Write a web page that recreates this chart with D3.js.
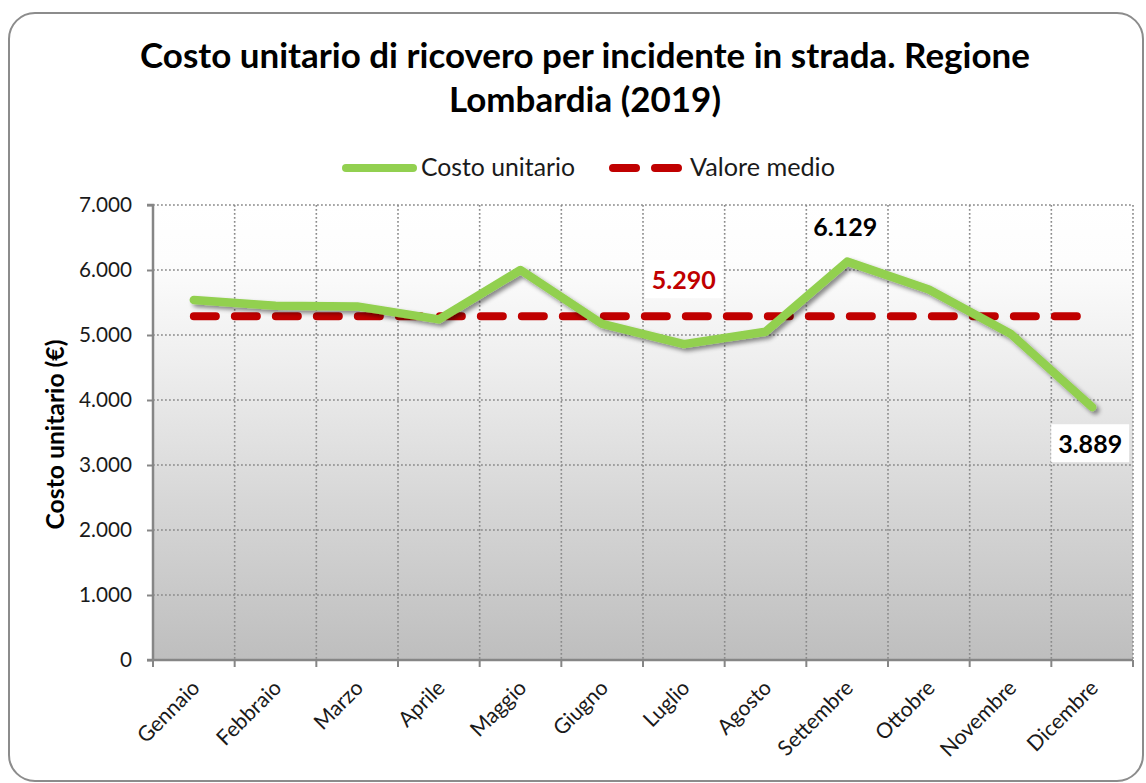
<!DOCTYPE html>
<html>
<head>
<meta charset="utf-8">
<script src="https://cdn.jsdelivr.net/npm/d3@7"></script>
<style>
  html, body { margin: 0; padding: 0; background: #ffffff; }
  svg { display: block; }
  text { font-family: Lato, "Open Sans", "DejaVu Sans", sans-serif; }
</style>
</head>
<body>
<script>
// ---- DATA ----
const months = ["Gennaio","Febbraio","Marzo","Aprile","Maggio","Giugno","Luglio","Agosto","Settembre","Ottobre","Novembre","Dicembre"];
const costoUnitario = [5540, 5450, 5440, 5240, 6000, 5170, 4860, 5050, 6129, 5700, 5020, 3889];
const valoreMedio = 5290;
const yTicks = [0, 1000, 2000, 3000, 4000, 5000, 6000, 7000];
const titleLines = ["Costo unitario di ricovero per incidente in strada. Regione", "Lombardia (2019)"];
const legendLabels = ["Costo unitario", "Valore medio"];
const yAxisTitle = "Costo unitario (€)";
const labelledPoints = [
  {month: "Settembre", value: 6129, text: "6.129"},
  {month: "Dicembre", value: 3889, text: "3.889"}
];
const meanLabel = {month: "Luglio", text: "5.290"};

// ---- SETUP ----
const W = 1146, H = 783;
const svg = d3.select("body").append("svg").attr("width", W).attr("height", H);
const defs = svg.append("defs");

const grad = defs.append("linearGradient").attr("id", "bg").attr("x1", 0).attr("y1", 0).attr("x2", 0).attr("y2", 1);
[[0, "#ffffff"], [0.12, "#fdfdfd"], [0.35, "#eeeeee"], [0.65, "#d7d7d7"], [1, "#bebebe"]].forEach(([o, c]) =>
  grad.append("stop").attr("offset", o).attr("stop-color", c));

const shadow = defs.append("filter").attr("id", "shadow").attr("x", "-10%").attr("y", "-20%").attr("width", "120%").attr("height", "140%");
shadow.append("feDropShadow").attr("dx", 3).attr("dy", 3).attr("stdDeviation", 2.2)
  .attr("flood-color", "#000").attr("flood-opacity", 0.45);

const locale = d3.formatLocale({decimal: ",", thousands: ".", grouping: [3], currency: ["€", ""]});
const fmt = locale.format(",");

function fit(sel, target) {
  const fs = parseFloat(sel.attr("font-size"));
  const w = sel.node().getComputedTextLength();
  const nfs = fs * target / w;
  sel.attr("font-size", nfs.toFixed(2));
  return nfs;
}

// chart border
svg.append("rect").attr("x", 9).attr("y", 13).attr("width", 1134).attr("height", 768)
  .attr("rx", 26).attr("ry", 26).attr("fill", "#fff").attr("stroke", "#8c8c8c").attr("stroke-width", 2);

const x = d3.scaleBand().domain(months).range([153, 1133]).padding(0);
const cx = m => x(m) + x.bandwidth() / 2;
const y = d3.scaleLinear().domain([0, 7000]).range([660, 205]);

// plot background
svg.append("rect").attr("x", x.range()[0]).attr("y", y(7000))
  .attr("width", x.range()[1] - x.range()[0]).attr("height", y(0) - y(7000))
  .attr("fill", "url(#bg)");

// gridlines
const grid = svg.append("g").attr("stroke", "#8a8a8a").attr("stroke-width", 1.6).attr("stroke-dasharray", "1.8,2.2");
grid.selectAll("line.h").data(yTicks.filter(t => t > 0)).join("line")
  .attr("x1", x.range()[0]).attr("x2", x.range()[1])
  .attr("y1", d => y(d)).attr("y2", d => y(d));
grid.selectAll("line.v").data(months).join("line")
  .attr("x1", d => x(d) + x.bandwidth()).attr("x2", d => x(d) + x.bandwidth())
  .attr("y1", y(7000)).attr("y2", y(0));

// axes
const yAxis = d3.axisLeft(y).tickValues(yTicks).tickFormat(fmt).tickSize(6).tickPadding(15);
const gy = svg.append("g").attr("transform", `translate(${x.range()[0]},0)`).call(yAxis);
gy.select(".domain").attr("stroke", "#868686").attr("stroke-width", 2.5).attr("d", `M-6,${y(7000)}H0V${y(0)}`);
gy.selectAll(".tick line").attr("stroke", "#868686").attr("stroke-width", 2);
const tickTexts = gy.selectAll(".tick text").attr("font-size", 20).attr("fill", "#1a1a1a").attr("font-family", "Lato, sans-serif");
const tfs = fit(tickTexts.filter(d => d === 5000), 53);
tickTexts.attr("font-size", tfs.toFixed(2));

const gx = svg.append("g").attr("transform", `translate(0,${y(0)})`);
gx.append("line").attr("x1", x.range()[0] - 6).attr("x2", x.range()[1]).attr("y1", 0).attr("y2", 0)
  .attr("stroke", "#868686").attr("stroke-width", 2.5);
gx.selectAll("line.t").data([months[0]].concat(months)).join("line")
  .attr("x1", (d, i) => i === 0 ? x.range()[0] : x(d) + x.bandwidth())
  .attr("x2", (d, i) => i === 0 ? x.range()[0] : x(d) + x.bandwidth())
  .attr("y1", 0).attr("y2", 7).attr("stroke", "#868686").attr("stroke-width", 2);
const xl = gx.selectAll("text").data(months).join("text")
  .attr("transform", d => `translate(${cx(d) + 2},${24}) rotate(-45)`)
  .attr("text-anchor", "end").attr("dy", "0.35em")
  .attr("font-size", 18).attr("fill", "#1a1a1a").text(d => d);
const xfs = fit(xl.filter(d => d === "Settembre"), 96);
xl.attr("font-size", xfs.toFixed(2));

// mean line
const meanLine = d3.line().x(d => cx(d)).y(() => y(valoreMedio));
svg.append("path").datum(months).attr("d", meanLine)
  .attr("fill", "none").attr("stroke", "#c00000").attr("stroke-width", 8)
  .attr("stroke-linecap", "round").attr("stroke-dasharray", "22,19");

// series line
const line = d3.line().x((d, i) => cx(months[i])).y(d => y(d));
svg.append("path").datum(costoUnitario).attr("d", line)
  .attr("fill", "none").attr("stroke", "#92d050").attr("stroke-width", 8.5)
  .attr("stroke-linecap", "round").attr("stroke-linejoin", "round")
  .attr("filter", "url(#shadow)");

// data labels
function boxedLabel(px, baseY, txt, color, target, box) {
  const g = svg.append("g");
  const r = g.append("rect").attr("fill", "#fff");
  const t = g.append("text").attr("x", px).attr("y", baseY).attr("text-anchor", "middle")
    .attr("font-weight", "bold").attr("font-size", 21).attr("fill", color).text(txt);
  fit(t, target);
  if (box) {
    const bb = t.node().getBBox();
    r.attr("x", bb.x - 7).attr("y", bb.y - 4).attr("width", bb.width + 14).attr("height", bb.height + 8);
  } else r.remove();
}
boxedLabel(cx(labelledPoints[0].month) - 2, y(labelledPoints[0].value) - 26, labelledPoints[0].text, "#000", 64, false);
boxedLabel(cx(labelledPoints[1].month) - 2, y(labelledPoints[1].value) + 46, labelledPoints[1].text, "#000", 64, true);
boxedLabel(cx(meanLabel.month), y(valoreMedio) - 27, meanLabel.text, "#c00000", 64, true);

// y axis title
const yt = svg.append("text").attr("transform", `translate(64,${(y(0) + y(7000)) / 2 + 2}) rotate(-90)`)
  .attr("text-anchor", "middle").attr("font-weight", "bold").attr("font-size", 19).attr("fill", "#000").text(yAxisTitle);
fit(yt, 190);

// title
const t1 = svg.append("text").attr("x", 585).attr("y", 68).attr("text-anchor", "middle")
  .attr("font-weight", "bold").attr("font-size", 29).attr("fill", "#000").text(titleLines[0]);
const tfs1 = fit(t1, 890);
svg.append("text").attr("x", 585).attr("y", 112).attr("text-anchor", "middle")
  .attr("font-weight", "bold").attr("font-size", tfs1.toFixed(2)).attr("fill", "#000").text(titleLines[1]);

// legend
const lg = svg.append("g");
lg.append("line").attr("x1", 346).attr("x2", 413).attr("y1", 168).attr("y2", 168)
  .attr("stroke", "#92d050").attr("stroke-width", 8).attr("stroke-linecap", "round");
const l1 = lg.append("text").attr("x", 421).attr("y", 176).attr("font-size", 21).attr("fill", "#1a1a1a").text(legendLabels[0]);
fit(l1, 154);
lg.append("line").attr("x1", 613).attr("x2", 678).attr("y1", 168).attr("y2", 168)
  .attr("stroke", "#c00000").attr("stroke-width", 8).attr("stroke-linecap", "round").attr("stroke-dasharray", "23,19");
const l2 = lg.append("text").attr("x", 690).attr("y", 176).attr("font-size", 21).attr("fill", "#1a1a1a").text(legendLabels[1]);
fit(l2, 145);
</script>
</body>
</html>
